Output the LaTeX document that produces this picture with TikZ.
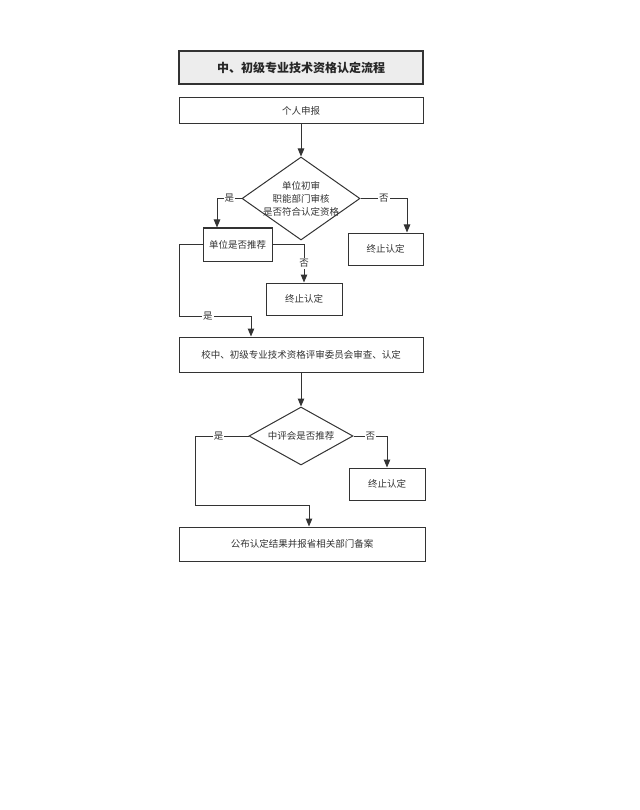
\documentclass[tikz,border=0pt]{standalone}
\usepackage{fontspec}
\setmainfont{Noto Sans CJK SC}
\usetikzlibrary{shapes.geometric,arrows.meta}
\begin{document}
\begin{tikzpicture}[x=1pt,y=-1pt,
  ln/.style={draw=black!80,line width=1pt},
  arr/.style={ln,-{Triangle[length=8pt,width=6.5pt]}},
  box/.style={ln,rectangle,inner sep=0pt,font=\fontsize{9.5}{11}\selectfont,text=black!80},
  dia/.style={ln,diamond,inner sep=0pt},
  lbl/.style={fill=white,inner sep=1pt,font=\fontsize{9.5}{11}\selectfont,text=black!80}]
\useasboundingbox (0,0) rectangle (639,810);
\node[box,fill=black!7,line width=1.3pt,minimum width=244,minimum height=33,font=\fontsize{12}{14}\selectfont\bfseries,text=black!85] (title) at (301,67.5) {中、初级专业技术资格认定流程};
\node[box,minimum width=244,minimum height=26] (b1) at (301,111) {个人申报};
\node[dia,minimum width=118,minimum height=83,label={[align=center,font=\fontsize{9.5}{13}\selectfont,text=black!80]center:单位初审\\职能部门审核\\是否符合认定资格}] (d1) at (301,198.5) {};
\node[box,minimum width=69,minimum height=33] (b2) at (237.5,244.5) {单位是否推荐};
\node[box,minimum width=75,minimum height=32] (e1) at (385.5,249) {终止认定};
\node[box,minimum width=76,minimum height=32] (e2) at (304,299) {终止认定};
\node[box,minimum width=244,minimum height=35] (b3) at (301,354.5) {校中、初级专业技术资格评审委员会审查、认定};
\node[dia,minimum width=104,minimum height=58,label={[font=\fontsize{9.5}{11}\selectfont,text=black!80]center:中评会是否推荐}] (d2) at (301,436) {};
\node[box,minimum width=76,minimum height=32] (e3) at (387,484) {终止认定};
\node[box,minimum width=246,minimum height=34] (b4) at (302,544) {公布认定结果并报省相关部门备案};
\coordinate (p1) at (217,198.5);
\coordinate (p2) at (407,198.5);
\coordinate (p3) at (179,316);
\coordinate (p4) at (251,316);
\coordinate (p5) at (195,436);
\coordinate (p6) at (195,505);
\coordinate (p7) at (309,505);
\coordinate (p8) at (387,436);
\draw[arr] (b1.south) -- (d1.north);
\draw[arr] (d1.west) -- node[lbl]{是} (p1) -- (p1 |- b2.north);
\draw[arr] (d1.east) -- node[lbl]{否} (p2) -- (p2 |- e1.north);
\draw[arr] (b2.east) -| node[lbl,pos=0.75]{否} (e2.north);
\draw[arr] (b2.west) -| (p3) -- node[lbl,pos=0.4]{是} (p4) -- (p4 |- b3.north);
\draw[arr] (b3.south) -- (d2.north);
\draw[arr] (d2.west) -- node[lbl,pos=0.56]{是} (p5) -- (p6) -- (p7) -- (p7 |- b4.north);
\draw[arr] (d2.east) -- node[lbl]{否} (p8) -- (e3.north);
\end{tikzpicture}
\end{document}
